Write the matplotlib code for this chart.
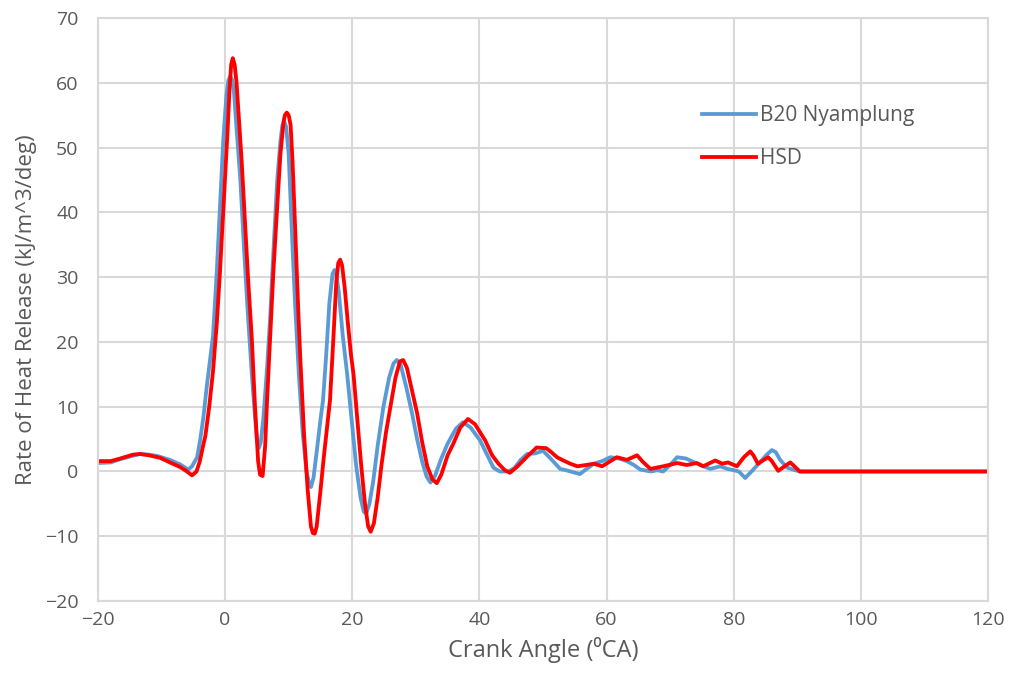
import matplotlib.pyplot as plt

# crank angle (deg) and heat release rate for B20 Nyamplung
b20_x = [-20, -18, -16.5, -15, -13.4, -12, -10.7, -8.7, -7.1, -6.3, -5.8, -5.2, -4.4, -3.9,
         -3.4, -2.9, -2.4, -1.9, -1.3, -0.8, -0.3, 0.2, 0.5, 0.8, 1.1, 1.4, 1.8, 2.4, 3.0,
         3.6, 4.2, 4.7, 5.0, 5.3, 5.6, 6.0, 6.6, 7.1, 7.6, 8.2, 8.7, 9.0, 9.3, 9.6, 10.0,
         10.5, 11.0, 11.6, 12.2, 12.8, 13.2, 13.5, 13.9, 14.4, 15.0, 15.4, 15.9, 16.4, 16.9,
         17.2, 17.5, 17.9, 18.5, 19.2, 19.9, 20.6, 21.3, 21.8, 22.2, 22.7, 23.3, 24.0, 24.9,
         25.8, 26.5, 27.0, 27.6, 28.5, 29.4, 30.2, 31.0, 31.7, 32.3, 33.0, 34.0, 35.0, 36.3,
         37.4, 38.6, 40.1, 41.2, 42.2, 43.2, 44.5, 45.5, 46.5, 47.5, 48.8, 50.0, 51.2, 52.7,
         54.0, 55.8, 57.0, 58.0, 59.3, 60.6, 62.0, 63.2, 64.3, 65.3, 67.0, 68.0, 68.9, 70.0,
         71.1, 72.5, 73.6, 75.0, 76.3, 77.9, 79.0, 80.0, 80.8, 81.8, 82.8, 84.2, 85.2, 86.0,
         86.6, 87.3, 88.4, 89.3, 90.4, 95, 100, 110, 120]
b20_y = [1.3, 1.4, 1.9, 2.3, 2.7, 2.6, 2.4, 1.8, 1.1, 0.6, 0.3, 0.8, 2.2, 5,
         8.5, 13, 17, 21, 31, 41, 51, 58, 60.3, 61, 60.5, 58.5, 53, 45, 34,
         24, 15, 8.5, 5.0, 3.6, 4.5, 8, 16, 24, 34, 45, 51, 53.4, 54, 53.2, 49,
         37, 26, 15, 6, 0, -1.8, -2.4, -1, 3, 8, 11, 18, 26, 30.5,
         31.1, 30.5, 27.5, 21, 15, 8, 1, -4, -6.2, -6.5, -5, -1.5, 4, 10,
         14.5, 16.7, 17.2, 16.5, 13, 9, 5, 1.5, -0.8, -1.7, -0.7, 2, 4.3, 6.6,
         7.6, 6.8, 4.8, 2.6, 0.6, 0.0, 0.0, 0.5, 1.8, 2.7, 2.8, 3.2, 2.0, 0.4,
         0.1, -0.4, 0.5, 1.2, 1.6, 2.2, 2.0, 1.6, 1.0, 0.3, 0.0, 0.2, 0.0, 1.0,
         2.2, 2.0, 1.5, 0.9, 0.4, 0.8, 0.4, 0.2, 0.0, -1.0, 0.0, 1.5, 2.6, 3.3,
         3.0, 1.8, 0.6, 0.3, 0.0, 0, 0, 0, 0]

# crank angle (deg) and heat release rate for HSD
hsd_x = [-20, -18, -16.5, -14.5, -13.4, -12, -10.2, -8.7, -7.1, -6, -5.2, -4.5, -4, -3.5,
         -3.1, -2.5, -1.9, -1.3, -0.8, -0.2, 0.3, 0.7, 0.95, 1.2, 1.5, 1.8, 2.2, 2.6, 3.1,
         3.6, 4.2, 4.7, 5.2, 5.5, 5.9, 6.3, 6.6, 7.1, 7.6, 8.2, 8.7, 9.2, 9.4, 9.7, 10.0,
         10.3, 10.6, 11.0, 11.5, 11.8, 12.4, 13.0, 13.5, 13.8, 14.1, 14.4, 15.0, 15.5, 16.0,
         16.5, 17.0, 17.5, 17.8, 18.1, 18.4, 18.8, 19.3, 19.8, 20.2, 20.8, 21.4, 22.0, 22.5,
         22.9, 23.4, 24.0, 24.6, 25.3, 26.0, 26.8, 27.5, 28.0, 28.6, 29.4, 30.2, 31.0, 31.8,
         32.6, 33.3, 34.0, 35.0, 35.9, 37.0, 38.2, 39.3, 40.9, 42.0, 43.0, 44.0, 44.8, 46.0,
         47.5, 49.0, 50.5, 51.3, 52.2, 53.2, 54.3, 55.4, 56.8, 58.0, 59.3, 60.3, 61.6, 63.2,
         64.8, 65.7, 66.9, 68.9, 71.1, 72.6, 74.2, 75.2, 77.1, 78.2, 79.1, 80.5, 81.6, 82.6,
         83.1, 83.8, 85.4, 86.0, 87.0, 88.0, 88.9, 90.4, 95, 100, 110, 120]
hsd_y = [1.6, 1.6, 2.0, 2.6, 2.7, 2.5, 2.1, 1.4, 0.7, 0.0, -0.6, 0.0, 1.5, 3.8,
         5.5, 10, 15.5, 23, 31, 42, 51, 59, 62.8, 63.8, 62.8, 60, 54, 48, 39,
         30, 20.5, 10, 1.5, -0.5, -0.7, 4, 11, 21, 31, 41, 49, 54, 55, 55.4, 55,
         53.5, 48, 38, 25, 18, 6, -3, -8.5, -9.5, -9.6, -8.5, -3, 2, 6.5,
         11, 20, 29.5, 32.2, 32.7, 31.8, 28.5, 23, 18, 15, 8, 1, -5, -8.5,
         -9.3, -8, -4, 1, 6, 10, 14.5, 17, 17.2, 16, 12.5, 9, 4.5, 0.8,
         -1.2, -1.8, -0.5, 2.5, 4.3, 6.8, 8.1, 7.3, 4.8, 2.5, 1.2, 0.2, -0.2, 0.8,
         2.3, 3.7, 3.6, 3.0, 2.2, 1.7, 1.2, 0.8, 1.0, 1.2, 0.8, 1.4, 2.2, 1.8,
         2.5, 1.5, 0.4, 0.8, 1.3, 1.0, 1.3, 0.8, 1.7, 1.2, 1.4, 0.8, 2.2, 3.1,
         2.5, 1.2, 2.2, 1.6, 0.1, 0.8, 1.4, 0.0, 0, 0, 0, 0]

plt.rcParams['font.family'] = ['Open Sans', 'DejaVu Sans']
text_color = '#595959'
grid_color = '#D9D9D9'

fig = plt.figure(figsize=(10.12, 6.83), dpi=100)
ax = fig.add_axes([0.0968, 0.12, 0.8795, 0.8536])

ax.plot(b20_x, b20_y, color='#5B9BD5', linewidth=2.75, label='B20 Nyamplung',
        solid_joinstyle='round')
ax.plot(hsd_x, hsd_y, color='#FF0000', linewidth=2.75, label='HSD',
        solid_joinstyle='round')

ax.set_xlim(-20, 120)
ax.set_ylim(-20, 70)
ax.set_xticks(range(-20, 121, 20))
ax.set_yticks(range(-20, 71, 10))
ax.grid(True, color=grid_color, linewidth=1.5)
ax.set_axisbelow(True)
for side in ax.spines.values():
    side.set_color(grid_color)
    side.set_linewidth(1.5)
ax.tick_params(axis='y', length=0, labelsize=14, colors=text_color, pad=14)
ax.tick_params(axis='x', length=0, labelsize=14, colors=text_color, pad=7)

ax.set_xlabel('Crank Angle (\u2070CA)', fontsize=17, color=text_color, labelpad=6)
ax.set_ylabel('Rate of Heat Release (kJ/m^3/deg)', fontsize=16, color=text_color,
              labelpad=6)

ax.legend(loc='upper left', bbox_to_anchor=(0.6665, 0.868), frameon=False,
          fontsize=15, labelcolor=text_color, handlelength=2.6, handletextpad=0.2,
          labelspacing=1.05, borderpad=0)

fig.savefig('out.png', dpi=100)
